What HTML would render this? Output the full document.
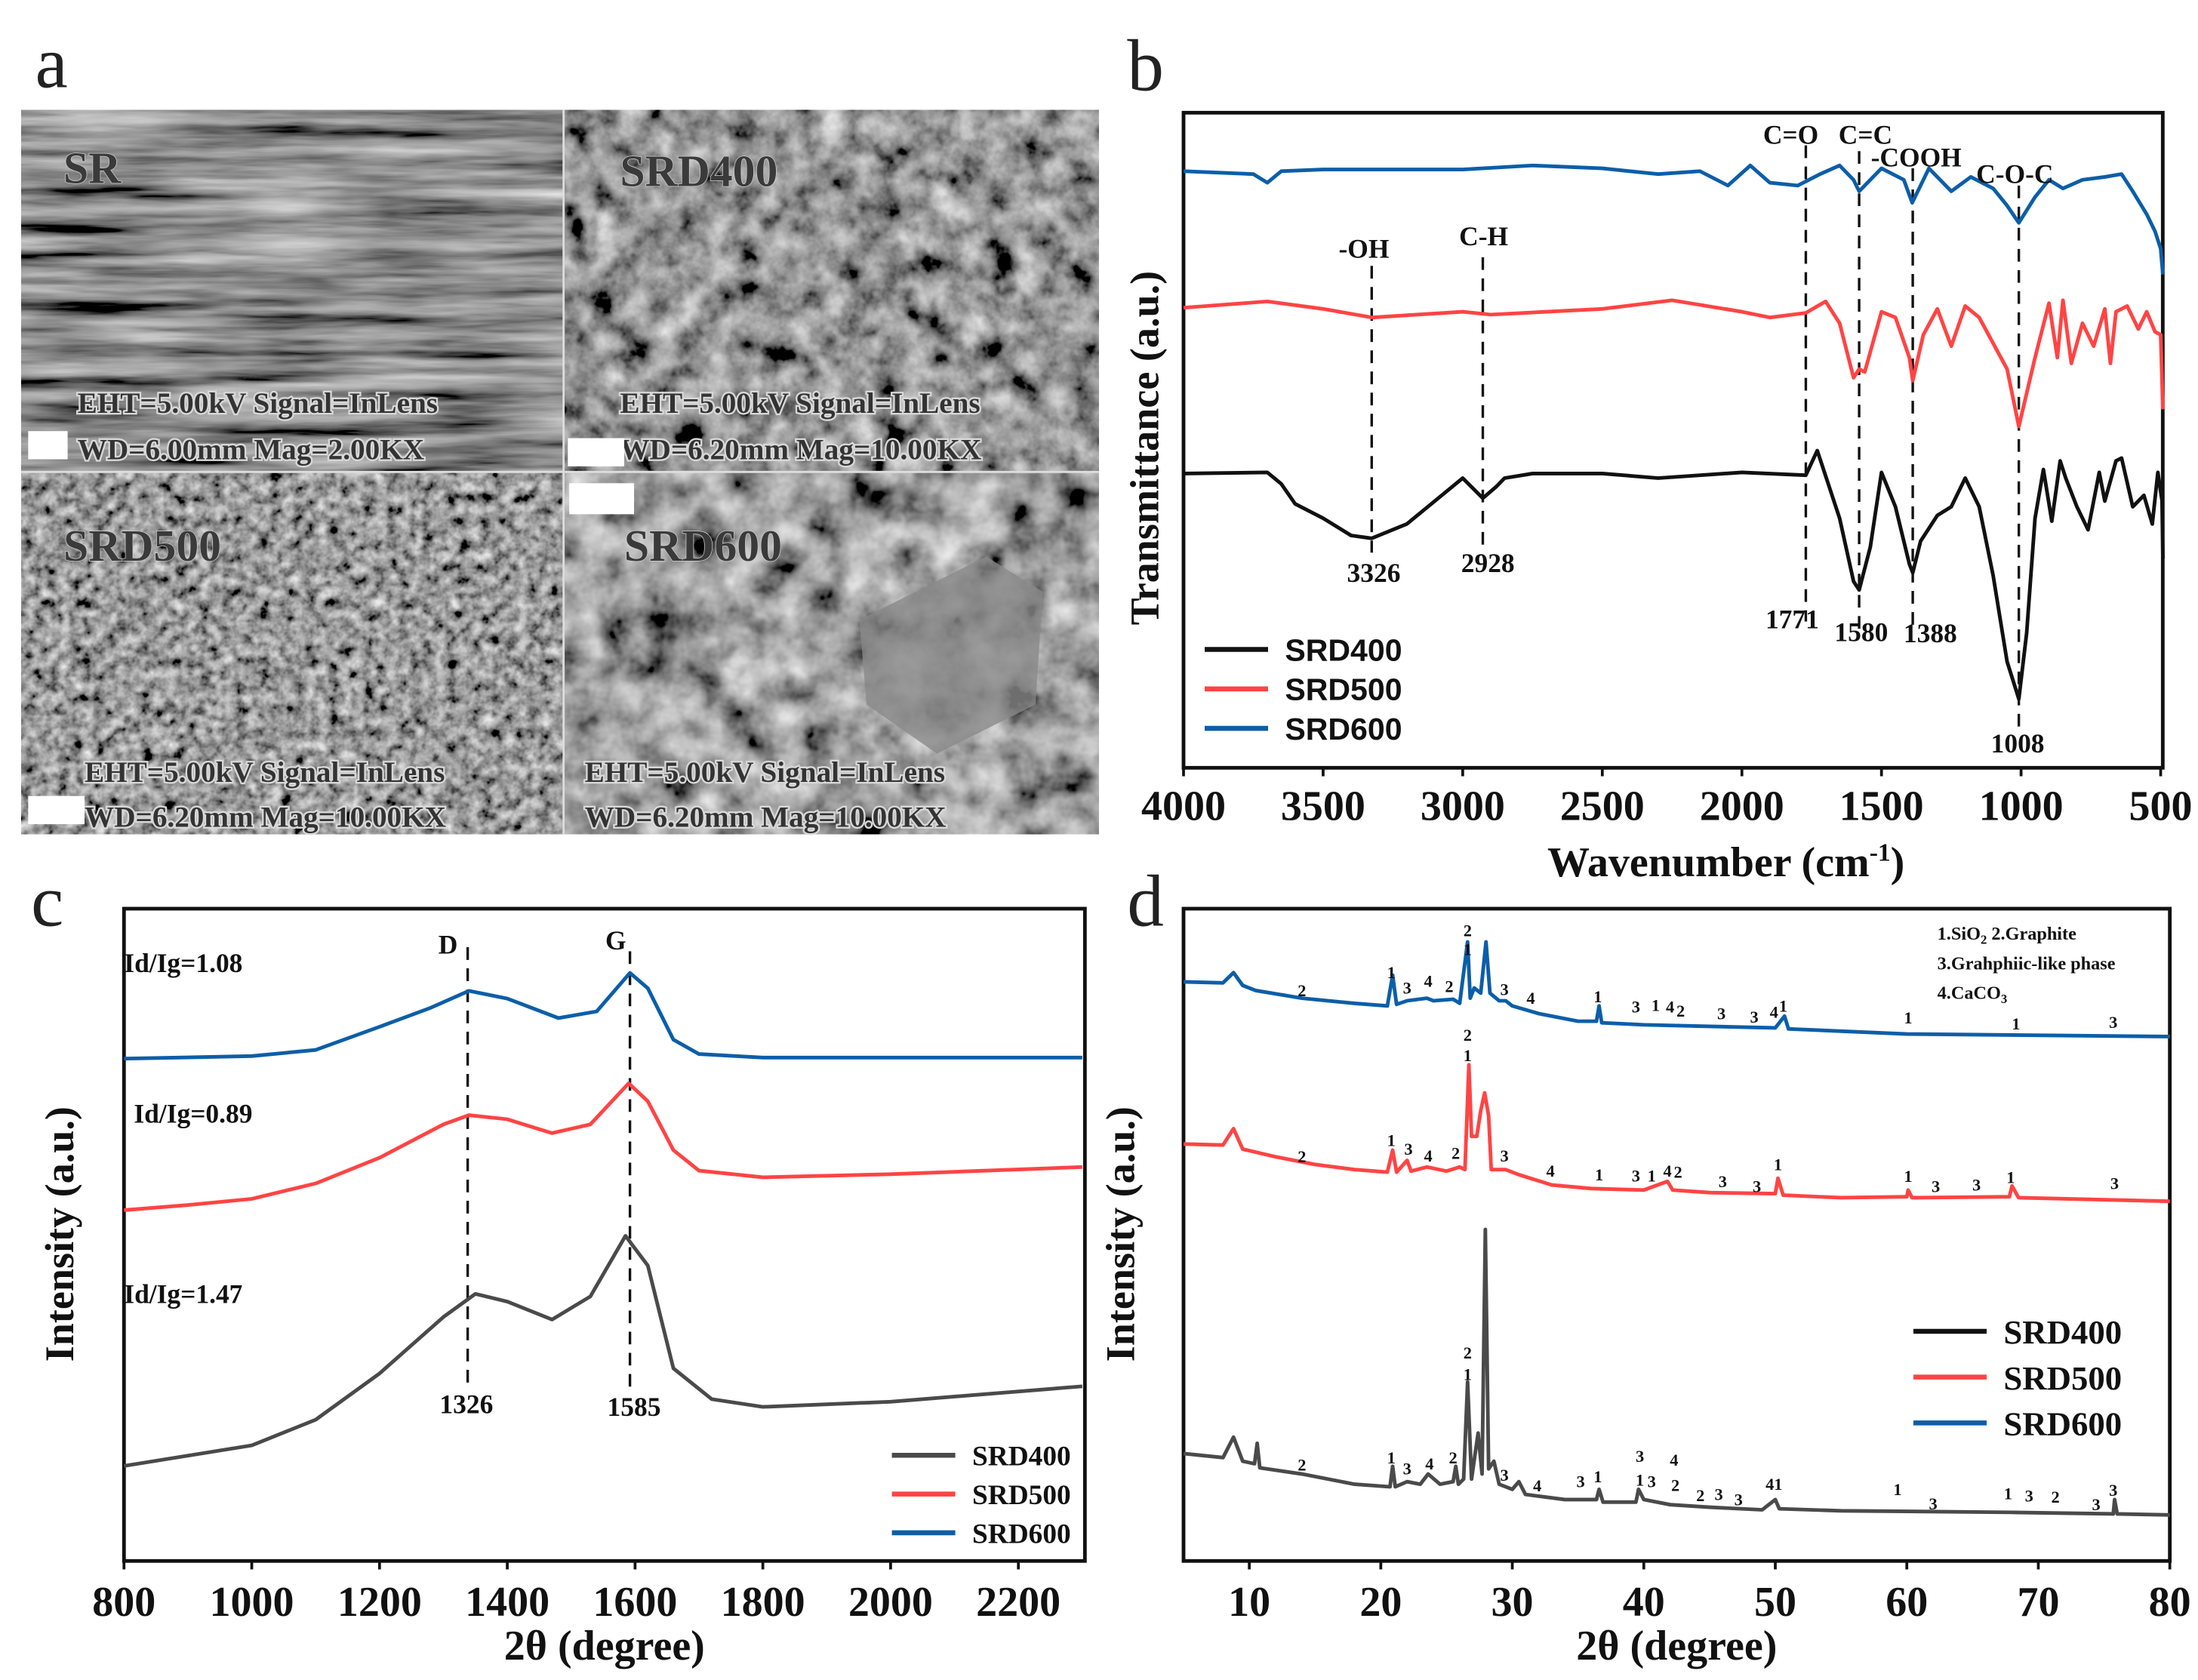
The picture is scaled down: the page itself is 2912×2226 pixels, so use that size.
<!DOCTYPE html>
<html><head><meta charset="utf-8"><style>
html,body{margin:0;padding:0;background:#fff}
svg{display:block}
text{font-family:"Liberation Serif",serif;font-weight:bold}
</style></head><body>
<svg id="fig" width="2912" height="2226" viewBox="0 0 1560 1192.5" xmlns="http://www.w3.org/2000/svg">
<defs>
<filter id="semA" x="0" y="0" width="100%" height="100%"><feTurbulence type="fractalNoise" baseFrequency="0.008 0.09" numOctaves="4" seed="3"/><feColorMatrix type="matrix" values="0.7 0.7 0 0 -0.42 0.7 0.7 0 0 -0.42 0.7 0.7 0 0 -0.42 0 0 0 0 1"/></filter>
<filter id="semB" x="0" y="0" width="100%" height="100%"><feTurbulence type="fractalNoise" baseFrequency="0.05" numOctaves="4" seed="7"/><feColorMatrix type="matrix" values="0.8 0.8 0 0 -0.5 0.8 0.8 0 0 -0.5 0.8 0.8 0 0 -0.5 0 0 0 0 1"/></filter>
<filter id="semC" x="0" y="0" width="100%" height="100%"><feTurbulence type="fractalNoise" baseFrequency="0.12" numOctaves="3" seed="11"/><feColorMatrix type="matrix" values="0.8 0.8 0 0 -0.48 0.8 0.8 0 0 -0.48 0.8 0.8 0 0 -0.48 0 0 0 0 1"/></filter>
<filter id="semD" x="0" y="0" width="100%" height="100%"><feTurbulence type="fractalNoise" baseFrequency="0.035" numOctaves="4" seed="5"/><feColorMatrix type="matrix" values="0.85 0.85 0 0 -0.5 0.85 0.85 0 0 -0.5 0.85 0.85 0 0 -0.5 0 0 0 0 1"/></filter>
</defs>
<g id="panelA">
<rect x="15" y="78" width="385" height="257" filter="url(#semA)"/>
<rect x="400" y="78" width="380" height="257" filter="url(#semB)"/>
<rect x="15" y="335" width="385" height="257" filter="url(#semC)"/>
<rect x="400" y="335" width="380" height="257" filter="url(#semD)"/>
<polygon points="610,440 700,395 740,420 735,500 665,535 615,500" fill="#8a8a8a" opacity="0.8"/>
<line x1="15" y1="335" x2="780" y2="335" stroke="#ddd" stroke-width="1.5"/>
<line x1="400" y1="78" x2="400" y2="592" stroke="#ddd" stroke-width="1.5"/>
<g font-size="32" fill="#3a3a3a" stroke="#cfcfcf" stroke-width="0.8" paint-order="stroke">
<text x="45" y="130">SR</text>
<text x="440" y="132">SRD400</text>
<text x="45" y="398">SRD500</text>
<text x="443" y="398">SRD600</text>
</g>
<g font-size="21" fill="#333" stroke="#d8d8d8" stroke-width="2.5" paint-order="stroke">
<text x="55" y="293">EHT=5.00kV  Signal=InLens</text>
<text x="55" y="326">WD=6.00mm  Mag=2.00KX</text>
<text x="440" y="293">EHT=5.00kV  Signal=InLens</text>
<text x="440" y="326">WD=6.20mm  Mag=10.00KX</text>
<text x="60" y="555">EHT=5.00kV  Signal=InLens</text>
<text x="60" y="587">WD=6.20mm  Mag=10.00KX</text>
<text x="415" y="555">EHT=5.00kV  Signal=InLens</text>
<text x="415" y="587">WD=6.20mm  Mag=10.00KX</text>
</g>
<rect x="20" y="306" width="28" height="20" fill="#fff"/>
<rect x="403" y="311" width="40" height="20" fill="#fff"/>
<rect x="20" y="565" width="40" height="20" fill="#fff"/>
<rect x="404" y="343" width="46" height="22" fill="#fff"/>
</g>
<g font-size="52" fill="#222">
<text x="25" y="62" style="font-weight:normal">a</text>
<text x="800" y="64" style="font-weight:normal">b</text>
<text x="22" y="657" style="font-weight:normal">c</text>
<text x="800" y="657" style="font-weight:normal">d</text>
</g>
<g id="gB"></g><g id="gC"></g><g id="gD"></g>
</svg>
<script>
// ---------- Panel b (FTIR) data ----------
const bTicks=[4000,3500,3000,2500,2000,1500,1000,500];
const bBlackX=[4000,3700,3650,3600,3500,3400,3326,3200,3100,3000,2928,2880,2850,2750,2500,2300,2000,1771,1730,1650,1600,1580,1540,1500,1450,1400,1388,1360,1300,1250,1200,1150,1100,1050,1008,980,950,920,890,860,840,800,760,720,700,660,640,600,560,530,510,495,492];
const bBlackY=[822,820,840,875,900,930,935,910,870,830,865,845,830,822,822,830,820,825,782,900,1010,1025,950,820,880,980,995,940,895,880,830,880,1000,1150,1215,1100,900,815,905,800,830,880,920,820,870,800,795,880,860,910,820,870,970];
const bRedX=[4000,3700,3500,3326,3000,2900,2500,2250,2000,1900,1771,1700,1650,1600,1580,1560,1500,1450,1400,1388,1350,1300,1250,1200,1150,1050,1008,950,900,870,850,820,780,740,700,680,660,620,580,550,520,500,492];
const bRedY=[533,522,535,550,540,545,535,520,540,550,542,522,560,655,640,645,540,550,620,660,580,535,600,530,550,640,740,620,525,620,520,630,560,600,535,630,540,530,570,540,575,580,710];
const bBlueX=[4000,3750,3700,3650,3500,3000,2750,2500,2300,2150,2050,1970,1900,1800,1720,1650,1600,1580,1500,1420,1390,1330,1250,1180,1100,1050,1008,950,900,850,780,700,640,600,550,520,500,492];
const bBlueY=[295,300,315,295,292,292,285,290,300,295,320,285,315,320,300,285,310,330,290,310,350,290,330,305,325,355,385,340,310,325,310,305,300,330,370,400,430,475];
const bMarks=[3326,2928,1771,1580,1388,1008];
const bMarkTop=[460,445,250,260,290,320];
const bMarkBot=[960,955,1080,1095,1100,1270];
// ---------- Panel c (Raman) data ----------
const cTicks=[800,1000,1200,1400,1600,1800,2000,2200];
const cGrayX=[800,900,1000,1100,1200,1300,1350,1400,1470,1530,1585,1620,1660,1720,1800,2000,2300];
const cGrayY=[1120,1100,1080,1030,940,830,785,800,835,790,672,730,930,990,1005,995,965];
const cRedX=[800,900,1000,1100,1200,1300,1340,1400,1470,1530,1590,1620,1660,1700,1800,2000,2300];
const cRedY=[622,612,600,570,520,455,437,445,472,455,375,410,505,545,558,552,538];
const cBlueX=[800,1000,1100,1200,1280,1340,1400,1480,1540,1592,1620,1660,1700,1800,2300];
const cBlueY=[327,322,310,265,228,195,210,248,235,160,190,290,318,325,325];
const cMarks=[1338,1592];
// ---------- Panel d (XRD) data ----------
const dTicks=[10,20,30,40,50,60,70,80];
const dGrayX=[5,8,8.8,9.5,10.4,10.6,10.8,14,18,20.7,20.9,21.1,22,23,23.6,24.5,25.5,25.7,25.9,26.3,26.6,26.9,27.4,27.7,27.95,28.2,28.6,29,30,30.5,31,34,36.4,36.6,36.9,39.4,39.6,40,42,45,49,50,50.3,55,60,68,75.7,75.8,76,80];
const dGrayY=[1100,1108,1068,1115,1120,1080,1128,1140,1160,1165,1125,1165,1155,1160,1140,1160,1155,1125,1160,1150,960,1150,1060,1140,662,1130,1115,1160,1170,1155,1180,1190,1190,1170,1195,1195,1170,1190,1200,1205,1210,1190,1208,1212,1213,1215,1218,1190,1218,1220];
const dRedX=[5,8,8.8,9.5,12,15,18,20.5,20.9,21.2,22,22.3,23.5,25,26,26.4,26.7,26.9,27.3,27.6,27.9,28.2,28.4,29.5,30.5,33,36,40,41.8,42.2,45,50,50.2,50.6,55,60,60.1,60.4,67.8,68,68.5,80];
const dRedY=[495,497,465,505,520,535,545,550,507,550,527,548,540,548,540,545,340,480,480,430,395,440,545,545,555,575,582,585,568,585,590,592,562,595,600,598,585,600,598,577,600,607];
const dBlueX=[5,8,8.8,9.5,10.5,14,18,20.5,20.9,21.2,22,23.5,24,25.5,26,26.6,26.8,27.1,27.6,28,28.3,29,29.5,30,32,35,36.4,36.6,36.8,40,45,50,50.7,51,60,80];
const dBlueY=[178,180,160,185,195,210,220,225,165,222,215,210,215,212,220,100,210,190,200,100,200,215,215,225,240,255,255,225,258,262,265,268,245,270,280,285];
const dLabX=[14,20.8,22,23.6,25.2,26.6,26.6,29.4,31.4,36.5,39.4,40.9,42,42.8,45.9,48.4,49.9,50.6,60.1,68.3,75.7,
14,20.8,22.1,23.6,25.7,26.6,26.6,29.4,32.9,36.6,39.4,40.6,41.8,42.6,46,48.6,50.2,60.1,62.2,65.3,67.9,75.8,
14,20.8,22,23.7,25.5,26.6,26.6,29.4,31.9,35.2,36.5,39.7,39.7,40.6,42.3,42.4,44.3,45.7,47.2,49.9,59.3,62,67.7,69.3,71.3,74.4,75.7];
const dLabY=[195,160,190,177,187,78,115,193,210,207,227,224,227,235,240,247,237,225,248,260,257,
520,488,505,518,513,282,322,518,548,555,557,557,548,550,568,578,535,558,578,575,560,572,
1122,1108,1130,1120,1108,903,945,1142,1163,1155,1145,1105,1152,1155,1113,1162,1182,1180,1190,1160,1170,1198,1178,1183,1185,1200,1172];
const dLabT=['2','1','3','4','2','2','1','3','4','1','3','1','4','2','3','3','4','1','1','1','3',
'2','1','3','4','2','2','1','3','4','1','3','1','4','2','3','3','1','1','3','3','1','3',
'2','1','3','4','2','2','1','3','4','3','1','3','1','3','4','2','2','3','3','41','1','3','1','3','2','3','3'];

const NS='http://www.w3.org/2000/svg';
function mk(tag,attrs,parent,txt){const e=document.createElementNS(NS,tag);for(const k in attrs)e.setAttribute(k,attrs[k]);if(txt!==undefined)e.textContent=txt;parent.appendChild(e);return e;}
function lin(d0,d1,r0,r1){return v=>r0+(v-d0)/(d1-d0)*(r1-r0);}
function pathD(xs,ys,sx,sy){return xs.map((x,i)=>(i?'L':'M')+sx(x).toFixed(2)+','+sy(ys[i]).toFixed(2)).join('');}
function frame(g,x0,y0,x1,y1,ticks,sx,tickY,fs){
  const r=mk('rect',{x:x0,y:y0,width:x1-x0,height:y1-y0,fill:'none',stroke:'#111','stroke-width':2.6},g);
  
  
  ticks.forEach(t=>{
    const tx=mk('text',{x:sx(t),y:tickY,'font-size':fs,'text-anchor':'middle',fill:'#111'},g,String(t));
    
    
    const tk=mk('line',{x1:sx(t),x2:sx(t),y1:y1,y2:y1+6,stroke:'#111','stroke-width':2},g);
    
    
  });
}
function series(g,xs,ys,sx,sy,col,name){
  const p=mk('path',{d:pathD(xs,ys,sx,sy),fill:'none',stroke:col,'stroke-width':2.6,'stroke-linejoin':'round'},g);
  
  
}
function legend(g,x,y,dy,len,names,cols,fs,sans){
  names.forEach((n,i)=>{
    const l=mk('line',{x1:x,x2:x+len,y1:y+i*dy,y2:y+i*dy,stroke:cols[i],'stroke-width':3.5},g);
    
    
    const t=mk('text',{x:x+len+12,y:y+i*dy+fs*0.36,'font-size':fs,fill:'#111'},g,n);
    if(sans)t.setAttribute('style','font-family:"Liberation Sans",sans-serif');
    
    
  });
}
const BLK='#111',GRY='#4a4a4a',RED='#ff4444',BLU='#0c5ea8';
const names=['SRD400','SRD500','SRD600'];

// Panel b
(function(){
  const g=document.getElementById('gB');
  const x0=840,x1=1535,y0=80,y1=545;
  const sx=lin(4000,500,x0,x0+(1500-112)/(1503-112)*(x1-x0));
  const sy=lin(193,1335,y0,y1);
  frame(g,x0,y0,x1,y1,bTicks,sx,582,30);
  bMarks.forEach((m,i)=>{const l=mk('line',{x1:sx(m),x2:sx(m),y1:sy(bMarkTop[i]),y2:sy(bMarkBot[i]),stroke:'#111','stroke-width':1.8,'stroke-dasharray':'9,6'},g);
    
    });
  series(g,bBlueX,bBlueY,sx,sy,BLU,'series-srd600');
  series(g,bRedX,bRedY,sx,sy,RED,'series-srd500');
  series(g,bBlackX,bBlackY,sx,sy,BLK,'series-srd400');
  const ann=[[968,183,'-OH'],[1053,174,'C-H'],[1271,102,'C=O'],[1324,102,'C=C'],[1360,118,'-COOH'],[1430,130,'C-O-C'],[975,413,'3326'],[1056,406,'2928'],[1272,446,'1771'],[1321,455,'1580'],[1370,456,'1388'],[1432,534,'1008']];
  ann.forEach(a=>{const t=mk('text',{x:a[0],y:a[1],'font-size':19,'text-anchor':'middle',fill:'#111'},g,a[2]);
    
    });
  legend(g,855,461,28,45,names,[BLK,RED,BLU],22,true);
  const yl=mk('text',{x:0,y:0,'font-size':29,'text-anchor':'middle',fill:'#111',transform:'translate(822,318) rotate(-90)'},g,'Transmittance (a.u.)');
  
  
  const xl=mk('text',{x:1225,y:622,'font-size':30,'text-anchor':'middle',fill:'#111'},g,'');
  xl.innerHTML='Wavenumber (cm<tspan dy="-11" font-size="18">-1</tspan><tspan dy="11">)</tspan>';
  
  
})();

// Panel c
(function(){
  const g=document.getElementById('gC');
  const x0=88,x1=770,y0=645,y1=1108;
  const sx=lin(800,800+1400*(1372/1277),x0,x1);
  const sy=lin(35,1305,y0,y1);
  frame(g,x0,y0,x1,y1,cTicks,sx,1147,30);
  const mt=[110,118],mb=[965,970];
  cMarks.forEach((m,i)=>{const l=mk('line',{x1:sx(m),x2:sx(m),y1:sy(mt[i]),y2:sy(mb[i]),stroke:'#111','stroke-width':1.8,'stroke-dasharray':'9,6'},g);
    
    });
  series(g,cBlueX,cBlueY,sx,sy,BLU,'series-srd600');
  series(g,cRedX,cRedY,sx,sy,RED,'series-srd500');
  series(g,cGrayX,cGrayY,sx,sy,GRY,'series-srd400');
  const ann=[[88,690,'Id/Ig=1.08','start'],[95,797,'Id/Ig=0.89','start'],[88,925,'Id/Ig=1.47','start'],[318,677,'D','middle'],[437,674,'G','middle'],[331,1003,'1326','middle'],[450,1005,'1585','middle']];
  ann.forEach(a=>{const t=mk('text',{x:a[0],y:a[1],'font-size':19,'text-anchor':a[3],fill:'#111'},g,a[2]);
    
    });
  legend(g,633,1033,27.5,45,names,[GRY,RED,BLU],20,false);
  const yl=mk('text',{x:0,y:0,'font-size':29,'text-anchor':'middle',fill:'#111',transform:'translate(52,876) rotate(-90)'},g,'Intensity (a.u.)');
  
  
  const xl=mk('text',{x:429,y:1178,'font-size':30,'text-anchor':'middle',fill:'#111'},g,'2θ (degree)');
  
  
})();

// Panel d
(function(){
  const g=document.getElementById('gD');
  const x0=840,x1=1540,y0=645,y1=1108;
  const sx=lin(5,80,x0,x1);
  const sy=lin(35,1310,y0,y1);
  frame(g,x0,y0,x1,y1,dTicks,sx,1147,30);
  series(g,dBlueX,dBlueY,sx,sy,BLU,'series-srd600');
  series(g,dRedX,dRedY,sx,sy,RED,'series-srd500');
  series(g,dGrayX,dGrayY,sx,sy,GRY,'series-srd400');
  dLabX.forEach((x,i)=>{const t=mk('text',{x:sx(x),y:sy(dLabY[i])+4,'font-size':12,'text-anchor':'middle',fill:'#111'},g,dLabT[i]);
    
    });
  const key=[[1375,667,'1.SiO<tspan font-size="9" dy="3">2</tspan><tspan dy="-3"> 2.Graphite</tspan>'],[1375,688,'3.Grahphiic-like phase'],[1375,709,'4.CaCO<tspan font-size="9" dy="3">3</tspan>']];
  key.forEach(k=>{const t=mk('text',{x:k[0],y:k[1],'font-size':13,fill:'#111'},g,'');t.innerHTML=k[2];
    
    });
  legend(g,1358,945,32.5,52,names,[BLK,RED,BLU],24,false);
  const yl=mk('text',{x:0,y:0,'font-size':29,'text-anchor':'middle',fill:'#111',transform:'translate(805,876) rotate(-90)'},g,'Intensity (a.u.)');
  
  
  const xl=mk('text',{x:1190,y:1178,'font-size':30,'text-anchor':'middle',fill:'#111'},g,'2θ (degree)');
  
  
})();
</script>
</body></html>
